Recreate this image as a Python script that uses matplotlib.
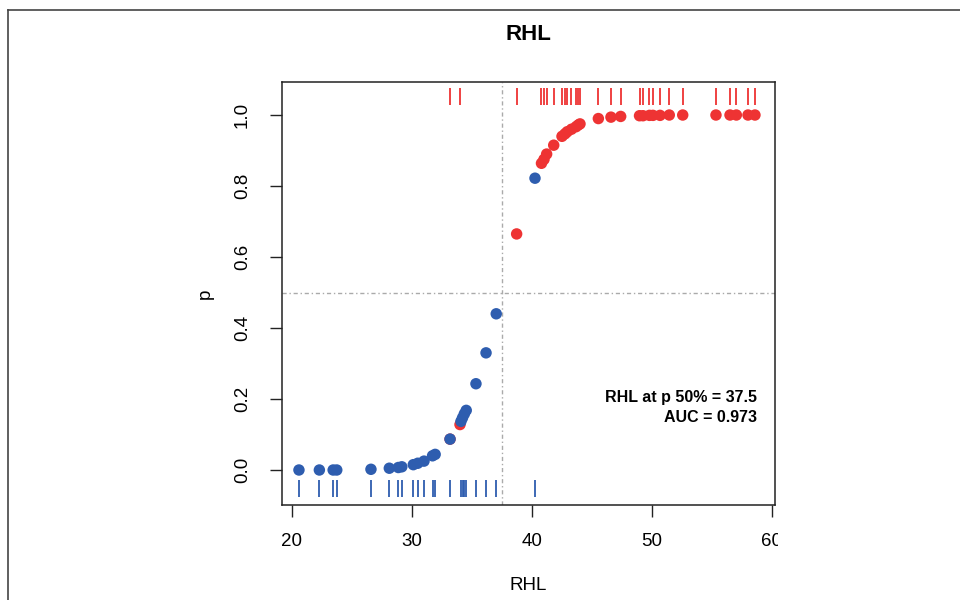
import matplotlib
matplotlib.use("Agg")
import matplotlib.pyplot as plt
from matplotlib.lines import Line2D
from matplotlib.patches import Rectangle
from matplotlib.transforms import blended_transform_factory

plt.rcParams['font.family'] = ['Liberation Sans', 'DejaVu Sans']

# ---- data ----
title = "RHL"
xlabel = "RHL"
ylabel = "p"

# observed outcome 1 (red)
x_pos = [33.17, 34.0, 38.72, 40.79, 41.0, 41.22, 41.81, 42.5, 42.75, 42.94,
         43.29, 43.67, 43.86, 44.0, 45.53, 46.58, 47.39, 48.96, 49.25, 49.79,
         50.08, 50.67, 51.44, 52.56, 55.33, 56.5, 57.03, 58.0, 58.58]
p_pos = [0.087, 0.128, 0.665, 0.864, 0.875, 0.89, 0.915, 0.94, 0.947, 0.953,
         0.96, 0.967, 0.972, 0.975, 0.99, 0.994, 0.996, 0.998, 0.998, 0.999,
         0.999, 0.999, 1.0, 1.0, 1.0, 1.0, 1.0, 1.0, 1.0]

# observed outcome 0 (blue)
x_neg = [20.58, 22.28, 23.43, 23.73, 26.58, 28.11, 28.86, 29.15, 30.11, 30.48,
         31.0, 31.71, 31.93, 33.17, 34.08, 34.21, 34.36, 34.52, 35.33, 36.17,
         37.02, 40.25]
p_neg = [0.0, 0.0, 0.0, 0.0, 0.002, 0.005, 0.007, 0.009, 0.015, 0.019,
         0.025, 0.04, 0.044, 0.087, 0.137, 0.147, 0.158, 0.168, 0.243, 0.33,
         0.44, 0.822]

cutoff = 37.5
p_cut = 0.5
auc = 0.973

xticks = [20, 30, 40, 50, 60]
yticks = [0.0, 0.2, 0.4, 0.6, 0.8, 1.0]

red = '#EE3333'
blue = '#2E5DAF'
grey = '#AAAAAA'

fig = plt.figure(figsize=(9.6, 6.0), dpi=100)
ax = fig.add_axes([282/960, 95/600, 493/960, 423/600])

ax.set_xlim(19.167, 60.25)
ax.set_ylim(-0.0986, 1.093)

# reference lines
ax.axvline(cutoff, color=grey, lw=1.0, dashes=(3, 2, 1, 2), zorder=1)
ax.axhline(p_cut, color=grey, lw=1.0, dashes=(3, 2, 1, 2), zorder=1)

# points
ax.scatter(x_pos, p_pos, s=68, color=red, edgecolors='none', zorder=3)
ax.scatter(x_neg, p_neg, s=68, color=blue, edgecolors='none', zorder=4)

# rugs
tr = blended_transform_factory(ax.transData, ax.transAxes)
ax.vlines(x_neg, 0.019, 0.059, colors=blue, lw=1.3, transform=tr, zorder=2)
ax.vlines(x_pos, 0.946, 0.986, colors=red, lw=1.3, transform=tr, zorder=2)

# text
ax.text(0.9635, 0.253, f"{title} at p 50% = {cutoff}", transform=ax.transAxes,
        ha='right', va='center', fontsize=11.5, fontweight='bold')
ax.text(0.9635, 0.206, f"AUC = {auc}", transform=ax.transAxes,
        ha='right', va='center', fontsize=11.5, fontweight='bold')

ax.set_xticks(xticks)
ax.set_yticks(yticks)
ax.set_xticklabels([str(t) for t in xticks])
ax.set_yticklabels([f"{t:.1f}" for t in yticks])
ax.tick_params(axis='both', direction='out', length=8.5, width=1.0,
               labelsize=13.5, color='#222222')
ax.tick_params(axis='x', pad=12)
ax.tick_params(axis='y', pad=14, labelrotation=90)
for lbl in ax.get_yticklabels():
    lbl.set_va('center')
for sp in ax.spines.values():
    sp.set_linewidth(1.1)
    sp.set_color('#222222')

ax.set_xlabel(xlabel, fontsize=13.5)
ax.xaxis.set_label_coords(0.5, -0.171)
ax.set_ylabel(ylabel, fontsize=13.5)
ax.yaxis.set_label_coords(-0.138, 0.5)

fig.text(528.5/960, 1 - 35/600, title, ha='center', va='center',
         fontsize=16, fontweight='bold')

# outer frame (left and top edges of the device box)
fig.add_artist(Line2D([8/960, 8/960], [0, 1 - 10/600], transform=fig.transFigure,
                      color='#444444', lw=1.2))
fig.add_artist(Line2D([8/960, 1], [1 - 10/600, 1 - 10/600], transform=fig.transFigure,
                      color='#444444', lw=1.2))

# the last x tick label is cut off at the right in the reference
fig.add_artist(Rectangle((778/960, 1 - 556/600), 20/960, 30/600,
                         transform=fig.transFigure, facecolor='white',
                         edgecolor='none', zorder=10))

fig.savefig("out.png", dpi=100)
